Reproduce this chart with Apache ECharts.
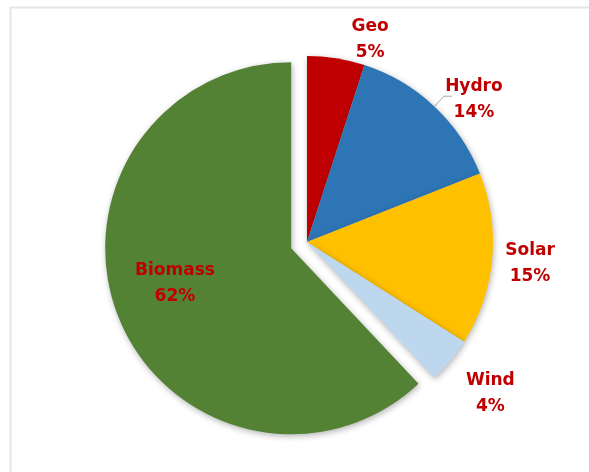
<!DOCTYPE html>
<html>
<head>
<meta charset="utf-8">
<script src="https://cdn.jsdelivr.net/npm/echarts@6/dist/echarts.min.js"></script>
<style>
  html, body { margin: 0; padding: 0; background: #fff; }
  #chart { width: 589px; height: 472px; }
</style>
</head>
<body>
<div id="chart"></div>
<script>
// ===== Data =====
const categories = ['Geo', 'Hydro', 'Solar', 'Wind', 'Biomass'];
const shares     = [5, 14, 15, 4, 62];
const colors     = ['#C00000', '#2E75B6', '#FFC000', '#BDD7EE', '#548235'];

// label nudges (px) so text sits where Excel put it
const labelNudge = [[25, 7], [17, 3], [7, 2], [15, 16], [-27, 0]];

const chart = echarts.init(document.getElementById('chart'), null, { renderer: 'canvas' });

const data = categories.map((name, i) => {
  const item = { name, value: shares[i], itemStyle: { color: colors[i] } };
  if (name === 'Biomass') {
    item.selected = true;
    item.label = { position: 'inside' };
  }
  if (name === 'Hydro') {
    item.labelLine = { show: true, length: 14, length2: 8, lineStyle: { color: '#a6a6a6', width: 1 } };
  }
  return item;
});

chart.setOption({
  animation: false,
  graphic: [{
    type: 'rect',
    shape: { x: 10.5, y: 7.5, width: 1000, height: 1000 },
    style: { fill: 'none', stroke: '#e6e6e6', lineWidth: 2 },
    silent: true
  }],
  series: [{
    type: 'pie',
    center: [307, 242],
    radius: 186,
    startAngle: 90,
    clockwise: true,
    avoidLabelOverlap: false,
    selectedMode: 'single',
    selectedOffset: 17,
    data,
    itemStyle: {
      shadowBlur: 6,
      shadowColor: 'rgba(0,0,0,0.3)',
      shadowOffsetX: 1,
      shadowOffsetY: 2
    },
    label: {
      show: true,
      position: 'outside',
      color: '#C00000',
      fontFamily: 'DejaVu Sans',
      fontWeight: 'bold',
      fontSize: 17,
      lineHeight: 26,
      formatter: p => p.name + '\n' + p.value + '%'
    },
    labelLine: { show: false, length: 26, length2: 0 },
    labelLayout: p => {
      const [dx, dy] = labelNudge[p.dataIndex];
      return { align: 'center', verticalAlign: 'middle', dx, dy };
    }
  }]
});
</script>
</body>
</html>
